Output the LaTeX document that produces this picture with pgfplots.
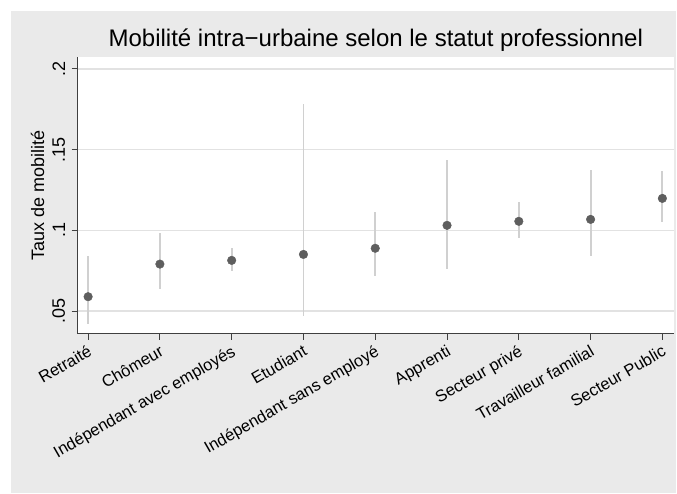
\documentclass[border=0pt]{standalone}
\usepackage{pgfplots}
\usepackage{pgfplotstable}
\pgfplotsset{compat=1.18}
\usepackage{fontspec}
\setmainfont{Liberation Sans}

\definecolor{bgcol}{RGB}{234,234,234}
\definecolor{gridcol}{RGB}{226,226,226}
\definecolor{barcol}{RGB}{208,208,208}
\definecolor{markcol}{RGB}{94,94,94}
\definecolor{axiscol}{RGB}{64,64,64}

% point estimate with lower and upper bound of the interval
\pgfplotstableread{
x y lo hi
0 0.0589 0.0422 0.0840
1 0.0791 0.0637 0.0986
2 0.0814 0.0748 0.0889
3 0.0851 0.0471 0.1784
4 0.0889 0.0717 0.1113
5 0.1031 0.0761 0.1433
6 0.1056 0.0950 0.1173
7 0.1068 0.0839 0.1377
8 0.1198 0.1050 0.1369
}\mobtable

\newcommand{\lbl}{\fontsize{18}{21}\selectfont}
\newcommand{\xlbl}{\fontsize{16.5}{19}\selectfont}

\begin{document}
\begin{tikzpicture}[x=1pt,y=1pt]
\path[use as bounding box, fill=white] (0,0) rectangle (677,493);
\fill[bgcol] (11,0) rectangle (676,482);
\node[anchor=base, font=\fontsize{24}{28}\selectfont] at (375.8,446) {Mobilité intra−urbaine selon le statut professionnel};
\begin{axis}[
  at={(77.7pt,159.5pt)}, anchor=south west,
  scale only axis, width=596.3pt, height=276.5pt,
  xmin=-0.145, xmax=8.162, ymin=0.0361, ymax=0.2074,
  axis background/.style={fill=white},
  axis lines*=left,
  axis line style={draw=axiscol, line width=1.2pt},
  tick align=outside, major tick length=6pt,
  tick style={draw=axiscol, line width=1pt},
  ymajorgrids, grid style={draw=gridcol, line width=1.2pt},
  ytick={0.05,0.1,0.15,0.2},
  yticklabels={.05,.1,.15,.2},
  yticklabel shift=3pt,
  yticklabel style={rotate=90, anchor=south, font=\lbl},
  xtick={0,...,8},
  xticklabels={Retraité,Chômeur,Indépendant avec employés,Etudiant,Indépendant sans employé,Apprenti,Secteur privé,Travailleur familial,Secteur Public},
  xticklabel style={rotate=30, anchor=north east, font=\xlbl},
  ylabel={Taux de mobilité},
  every axis y label/.style={at={(axis description cs:-0.0674,0.5)}, rotate=90, anchor=center, font=\lbl},
]
\addplot[only marks, mark=none, forget plot,
  error bars/.cd, y dir=both, y explicit, error mark=none,
  error bar style={draw=barcol, line width=1.8pt}]
  table[x=x, y=y,
        y error plus expr=\thisrow{hi}-\thisrow{y},
        y error minus expr=\thisrow{y}-\thisrow{lo}] {\mobtable};
\addplot[only marks, mark=*, mark size=4.3pt,
  mark options={fill=markcol, draw=markcol, line width=0.4pt}]
  table[x=x, y=y] {\mobtable};
\end{axis}
\end{tikzpicture}
\end{document}
